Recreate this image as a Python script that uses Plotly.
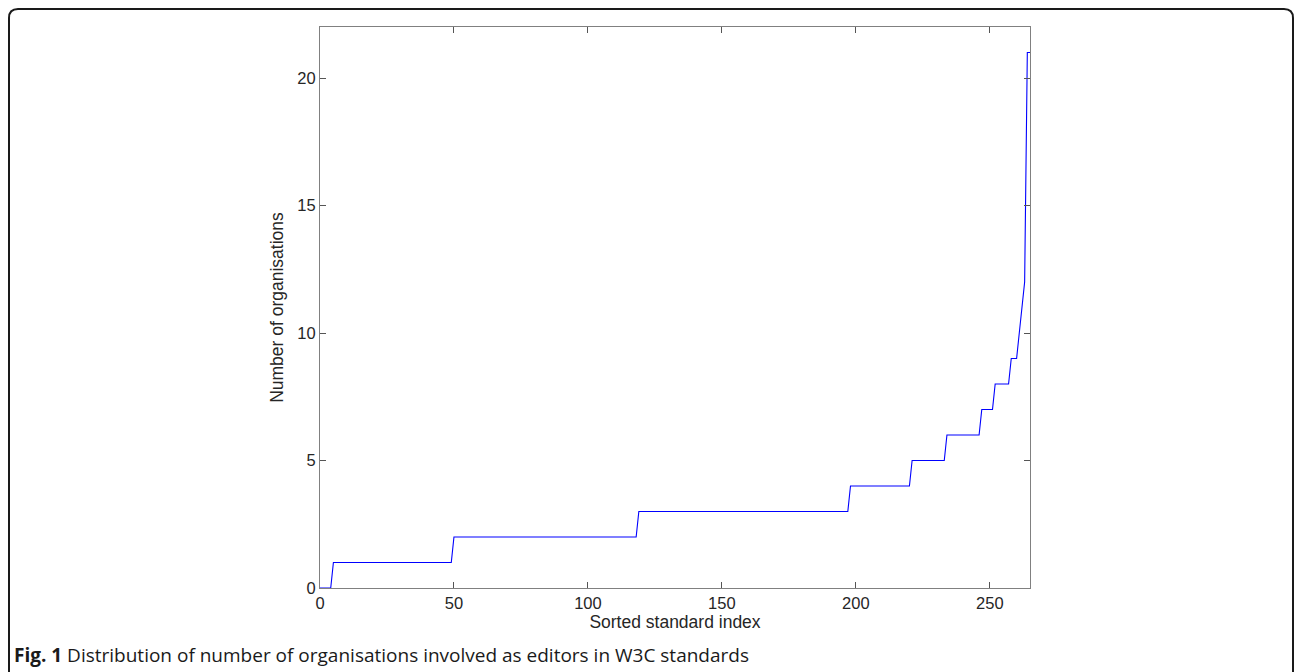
import plotly.graph_objects as go

# Number of organisations involved as editors (level) and how many standards have that level
org_levels = [0, 1, 2, 3, 4, 5, 6, 7, 8, 9, 10, 11, 12, 21]
standard_counts = [5, 45, 69, 79, 23, 13, 13, 5, 6, 3, 1, 1, 1, 2]

x_ticks = [0, 50, 100, 150, 200, 250]
y_ticks = [0, 5, 10, 15, 20]

caption_bold = "Fig. 1"
caption_text = "Distribution of number of organisations involved as editors in W3C standards"

# sorted series (each standard's value, sorted ascending)
sorted_values = []
for lvl, cnt in zip(org_levels, standard_counts):
    sorted_values.extend([lvl] * cnt)
index = list(range(len(sorted_values)))

W, H = 1296, 672
L, R, T, B = 320, 1030, 27, 588
pw, ph = R - L, B - T


def px(x):
    return (x - L) / pw


def py(y):
    return (B - y) / ph


fig = go.Figure()
fig.add_trace(go.Scatter(x=index, y=sorted_values, mode="lines",
                         line=dict(color="#0000ff", width=1.1), hoverinfo="skip",
                         showlegend=False))

axis_common = dict(showline=True, linecolor="#808080", linewidth=1, mirror="ticks",
                   ticks="inside", ticklen=6, tickcolor="#555555", tickwidth=1,
                   showgrid=False, zeroline=False,
                   tickfont=dict(family="Liberation Sans, Arial", size=16.5, color="#262626"))

fig.update_xaxes(range=[0, 265], tickvals=x_ticks, **axis_common,
                 title=dict(text="Sorted standard index", standoff=3,
                            font=dict(family="Liberation Sans, Arial", size=17.5, color="#262626")))
fig.update_yaxes(range=[0, 22], tickvals=y_ticks, **axis_common,
                 title=dict(text="Number of organisations", standoff=9,
                            font=dict(family="Liberation Sans, Arial", size=17.5, color="#262626")))

# rounded frame around the figure (open at the bottom)
x0, x1, y0, y1 = 9, 1293, 9, 700
r = 9
path = (f"M {px(x0)},{py(y1)} L {px(x0)},{py(y0 + r)} "
        f"Q {px(x0)},{py(y0)} {px(x0 + r)},{py(y0)} "
        f"L {px(x1 - r)},{py(y0)} "
        f"Q {px(x1)},{py(y0)} {px(x1)},{py(y0 + r)} "
        f"L {px(x1)},{py(y1)}")
fig.add_shape(type="path", path=path, xref="paper", yref="paper",
              line=dict(color="#1a1a1a", width=2), layer="above")

fig.add_annotation(x=px(12), y=py(655), xref="paper", yref="paper",
                   xanchor="left", yanchor="middle", showarrow=False,
                   text=f"<b>{caption_bold}</b> {caption_text}",
                   font=dict(family="Open Sans", size=19, color="#1a1a1a"))

fig.update_layout(width=W, height=H, margin=dict(l=L, r=W - R, t=T, b=H - B),
                  paper_bgcolor="white", plot_bgcolor="white")

fig.write_html("out.html")
